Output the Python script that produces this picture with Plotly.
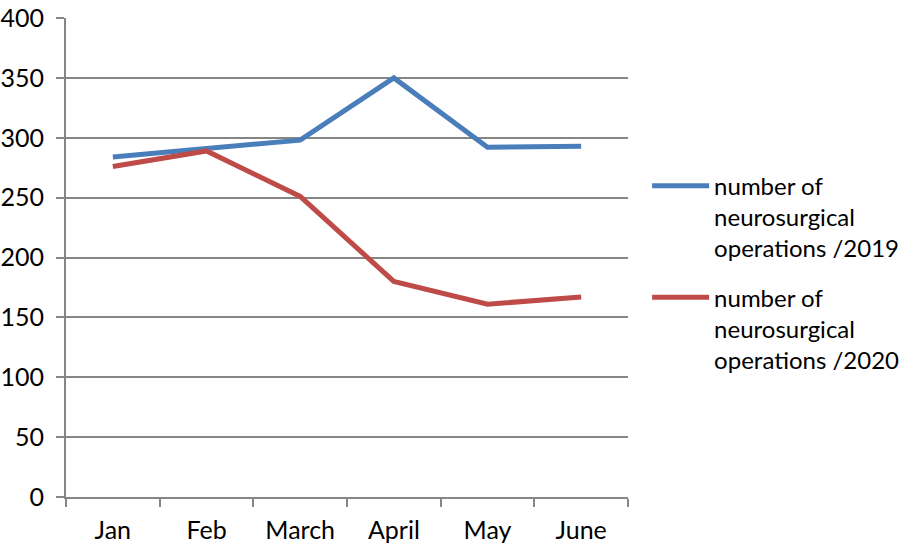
import plotly.graph_objects as go

months = ["Jan", "Feb", "March", "April", "May", "June"]
ops_2019 = [284, 291, 298, 350, 292, 293]
ops_2020 = [276, 289, 251, 180, 161, 167]
name_2019 = "number of<br>neurosurgical<br>operations /2019"
name_2020 = "number of<br>neurosurgical<br>operations /2020"

fig = go.Figure()
fig.add_trace(go.Scatter(x=months, y=ops_2019, mode="lines", name=name_2019,
                         legendgroup="a",
                         line=dict(color="#4a7ebb", width=5)))
fig.add_trace(go.Scatter(x=months, y=ops_2020, mode="lines", name=name_2020,
                         legendgroup="b",
                         line=dict(color="#be4b48", width=5)))

grid = "#868686"
fig.update_layout(
    width=904, height=548,
    margin=dict(l=66, r=276, t=18, b=51, autoexpand=False),
    paper_bgcolor="white", plot_bgcolor="white",
    font=dict(family="Lato, Open Sans, sans-serif", size=24, color="black"),
    showlegend=True,
    legend=dict(x=1.034, y=0.696, xanchor="left", yanchor="top",
                valign="top", itemwidth=57, tracegroupgap=15,
                font=dict(size=24)),
    xaxis=dict(type="category", showline=True, linecolor=grid, linewidth=2,
               ticks="outside", tickson="boundaries", ticklen=8, tickcolor=grid,
               tickwidth=2, showgrid=False, zeroline=False, automargin=False,
               ticklabelstandoff=10, range=[-0.5, 5.5], tickfont=dict(size=25)),
    yaxis=dict(range=[0, 400], dtick=50, showline=True, linecolor=grid, linewidth=2,
               ticks="outside", ticklen=8, tickcolor=grid, tickwidth=2,
               automargin=False, ticklabelstandoff=7, tickfont=dict(size=25),
               showgrid=True, gridcolor=grid, gridwidth=2, zeroline=False),
)
fig.write_html("out.html",
               config={"displayModeBar": False},
               post_script="document.body.style.margin='0';document.body.style.padding='0';")
